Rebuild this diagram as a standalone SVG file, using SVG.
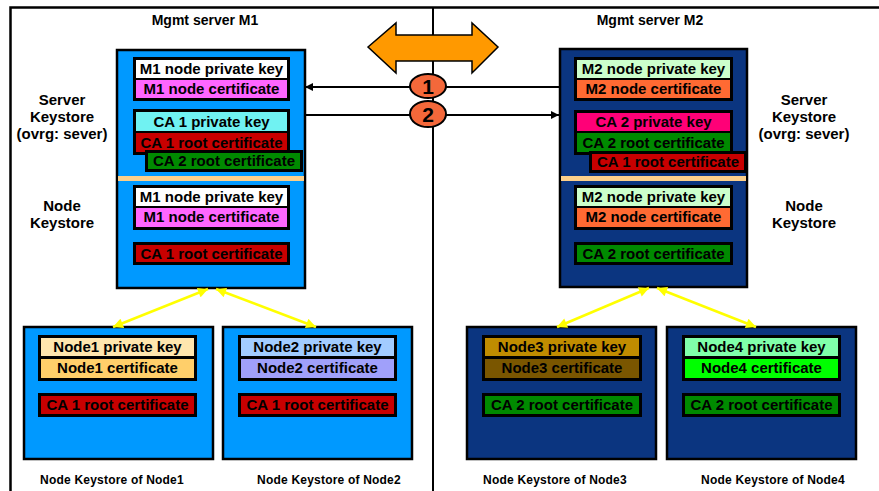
<svg xmlns="http://www.w3.org/2000/svg" width="879" height="491" viewBox="0 0 879 491">
<style>
text{font-family:"Liberation Sans",Arial,sans-serif;font-weight:bold;fill:#000;text-anchor:middle}
.it{font-size:15px}
.lb{font-size:15px}
.cap{font-size:12px;letter-spacing:0.2px}
.ttl{font-size:14px}
.num{font-size:21px}
.blk{fill:#000}
.lt{fill:#0099FF;stroke:#000;stroke-width:2.5}
.dk{fill:#0B3580;stroke:#000;stroke-width:2.5}
.sep{fill:#FCCF8A}
.frame{stroke:#000;stroke-width:2.5;fill:none}
.conn{stroke:#000;stroke-width:2;fill:none}
.ylw{stroke:#FFFF00;stroke-width:2.5;fill:none}
</style>
<defs>
<marker id="ah" viewBox="0 0 10 10" refX="10" refY="5" markerWidth="9" markerHeight="8" markerUnits="userSpaceOnUse" orient="auto"><path d="M0,0 L10,5 L0,10 Z" fill="#000"/></marker>
<marker id="ay" viewBox="0 0 10 10" refX="10" refY="5" markerWidth="11" markerHeight="10" markerUnits="userSpaceOnUse" orient="auto-start-reverse"><path d="M0,0 L10,5 L0,10 Z" fill="#FFFF00"/></marker>
</defs>

<g id="frame">
<path class="frame" d="M10.5,491 V7.5 H879"/>
<line x1="433" y1="7" x2="433" y2="491" stroke="#000" stroke-width="2"/>
</g>

<g id="titles">
<text class="ttl" x="205" y="25">Mgmt server M1</text>
<text class="ttl" x="650" y="25">Mgmt server M2</text>
</g>

<g id="labels">
<text class="lb" x="62" y="105">Server</text>
<text class="lb" x="62" y="122">Keystore</text>
<text class="lb" x="62" y="139">(ovrg: sever)</text>
<text class="lb" x="62" y="211">Node</text>
<text class="lb" x="62" y="228">Keystore</text>
<text class="lb" x="804" y="105">Server</text>
<text class="lb" x="804" y="122">Keystore</text>
<text class="lb" x="804" y="139">(ovrg: sever)</text>
<text class="lb" x="804" y="211">Node</text>
<text class="lb" x="804" y="228">Keystore</text>
</g>

<g id="m1">
<rect class="lt" x="117" y="50" width="188" height="238"/>
<rect class="blk" x="133" y="57" width="157" height="44"/>
<rect x="136" y="60" width="151" height="18" fill="#FFFFFF"/>
<rect x="136" y="80" width="151" height="18" fill="#FF66FF"/>
<text class="it" x="211.5" y="74">M1 node private key</text>
<text class="it" x="211.5" y="94">M1 node certificate</text>
<rect class="blk" x="133" y="109" width="157" height="46"/>
<rect x="136" y="112" width="151" height="19" fill="#70F2F2"/>
<rect x="136" y="133" width="151" height="19" fill="#C80000"/>
<text class="it" x="211.5" y="127">CA 1 private key</text>
<text class="it" x="211.5" y="148">CA 1 root certificate</text>
<rect class="blk" x="145" y="150" width="158" height="22"/>
<rect x="148" y="153" width="152" height="16" fill="#008A00"/>
<text class="it" x="224" y="166">CA 2 root certificate</text>
<rect class="sep" x="118" y="176" width="186" height="5"/>
<rect class="blk" x="133" y="185" width="157" height="45"/>
<rect x="136" y="188" width="151" height="18" fill="#FFFFFF"/>
<rect x="136" y="208" width="151" height="19" fill="#FF66FF"/>
<text class="it" x="211.5" y="202">M1 node private key</text>
<text class="it" x="211.5" y="222">M1 node certificate</text>
<rect class="blk" x="133" y="242" width="157" height="23"/>
<rect x="136" y="245" width="151" height="17" fill="#C80000"/>
<text class="it" x="211.5" y="259">CA 1 root certificate</text>
</g>

<g id="m2">
<rect class="dk" x="560" y="49" width="187" height="238"/>
<rect class="blk" x="574" y="57" width="159" height="44"/>
<rect x="577" y="60" width="153" height="18" fill="#CCFFCC"/>
<rect x="577" y="80" width="153" height="18" fill="#FF6A33"/>
<text class="it" x="653.5" y="74">M2 node private key</text>
<text class="it" x="653.5" y="94">M2 node certificate</text>
<rect class="blk" x="574" y="110" width="159" height="45"/>
<rect x="577" y="113" width="153" height="18" fill="#FF0077"/>
<rect x="577" y="133" width="153" height="19" fill="#008A00"/>
<text class="it" x="653.5" y="127">CA 2 private key</text>
<text class="it" x="653.5" y="148">CA 2 root certificate</text>
<rect class="blk" x="589" y="151" width="158" height="22"/>
<rect x="592" y="154" width="152" height="16" fill="#C80000"/>
<text class="it" x="668" y="167">CA 1 root certificate</text>
<rect class="sep" x="561" y="176" width="185" height="5"/>
<rect class="blk" x="574" y="185" width="159" height="45"/>
<rect x="577" y="188" width="153" height="18" fill="#CCFFCC"/>
<rect x="577" y="208" width="153" height="19" fill="#FF6A33"/>
<text class="it" x="653.5" y="202">M2 node private key</text>
<text class="it" x="653.5" y="222">M2 node certificate</text>
<rect class="blk" x="574" y="242" width="159" height="23"/>
<rect x="577" y="245" width="153" height="17" fill="#008A00"/>
<text class="it" x="653.5" y="259">CA 2 root certificate</text>
</g>

<g id="node1">
<rect class="lt" x="24" y="327" width="189" height="132"/>
<rect class="blk" x="38" y="335" width="159" height="46"/>
<rect x="41" y="338" width="153" height="18" fill="#FFE6AE"/>
<rect x="41" y="359" width="153" height="19" fill="#FFCF6A"/>
<text class="it" x="117.5" y="352">Node1 private key</text>
<text class="it" x="117.5" y="373">Node1 certificate</text>
<rect class="blk" x="38" y="393" width="159" height="24"/>
<rect x="41" y="396" width="153" height="18" fill="#C80000"/>
<text class="it" x="117.5" y="410">CA 1 root certificate</text>
<text class="cap" x="112" y="484">Node Keystore of Node1</text>
</g>

<g id="node2">
<rect class="lt" x="223" y="327" width="189" height="132"/>
<rect class="blk" x="238" y="335" width="159" height="46"/>
<rect x="241" y="338" width="153" height="18" fill="#A2CCFF"/>
<rect x="241" y="359" width="153" height="19" fill="#A0A0FA"/>
<text class="it" x="317.5" y="352">Node2 private key</text>
<text class="it" x="317.5" y="373">Node2 certificate</text>
<rect class="blk" x="238" y="393" width="159" height="24"/>
<rect x="241" y="396" width="153" height="18" fill="#C80000"/>
<text class="it" x="317.5" y="410">CA 1 root certificate</text>
<text class="cap" x="329" y="484">Node Keystore of Node2</text>
</g>

<g id="node3">
<rect class="dk" x="467" y="327" width="189" height="132"/>
<rect class="blk" x="482" y="335" width="160" height="46"/>
<rect x="485" y="338" width="154" height="18" fill="#C08C00"/>
<rect x="485" y="359" width="154" height="19" fill="#7A5600"/>
<text class="it" x="562" y="352">Node3 private key</text>
<text class="it" x="562" y="373">Node3 certificate</text>
<rect class="blk" x="482" y="393" width="160" height="24"/>
<rect x="485" y="396" width="154" height="18" fill="#008A00"/>
<text class="it" x="562" y="410">CA 2 root certificate</text>
<text class="cap" x="555" y="484">Node Keystore of Node3</text>
</g>

<g id="node4">
<rect class="dk" x="667" y="327" width="189" height="132"/>
<rect class="blk" x="682" y="335" width="159" height="46"/>
<rect x="685" y="338" width="153" height="18" fill="#80FFAA"/>
<rect x="685" y="359" width="153" height="19" fill="#00FF00"/>
<text class="it" x="761.5" y="352">Node4 private key</text>
<text class="it" x="761.5" y="373">Node4 certificate</text>
<rect class="blk" x="682" y="393" width="159" height="24"/>
<rect x="685" y="396" width="153" height="18" fill="#008A00"/>
<text class="it" x="761.5" y="410">CA 2 root certificate</text>
<text class="cap" x="773" y="484">Node Keystore of Node4</text>
</g>

<g id="connectors">
<line class="conn" x1="560" y1="87" x2="305" y2="87" marker-end="url(#ah)"/>
<line class="conn" x1="306" y1="115" x2="559" y2="115" marker-end="url(#ah)"/>
<line class="ylw" x1="208" y1="289" x2="113" y2="327" marker-start="url(#ay)" marker-end="url(#ay)"/>
<line class="ylw" x1="216" y1="289" x2="316" y2="327" marker-start="url(#ay)" marker-end="url(#ay)"/>
<line class="ylw" x1="649" y1="288" x2="557" y2="327" marker-start="url(#ay)" marker-end="url(#ay)"/>
<line class="ylw" x1="657" y1="288" x2="756" y2="327" marker-start="url(#ay)" marker-end="url(#ay)"/>
</g>

<g id="sync">
<polygon points="368,47 396,23 396,35 472,35 472,23 498,47 472,73 472,61 396,61 396,73" fill="#FF9900" stroke="#000" stroke-width="1.5"/>
</g>

<g id="step1">
<ellipse cx="428" cy="86" rx="18" ry="12" fill="#F4683A" stroke="#000" stroke-width="2"/>
<text class="num" x="428" y="94">1</text>
</g>
<g id="step2">
<ellipse cx="428" cy="114" rx="18" ry="13" fill="#F4683A" stroke="#000" stroke-width="2"/>
<text class="num" x="428" y="122">2</text>
</g>
</svg>
